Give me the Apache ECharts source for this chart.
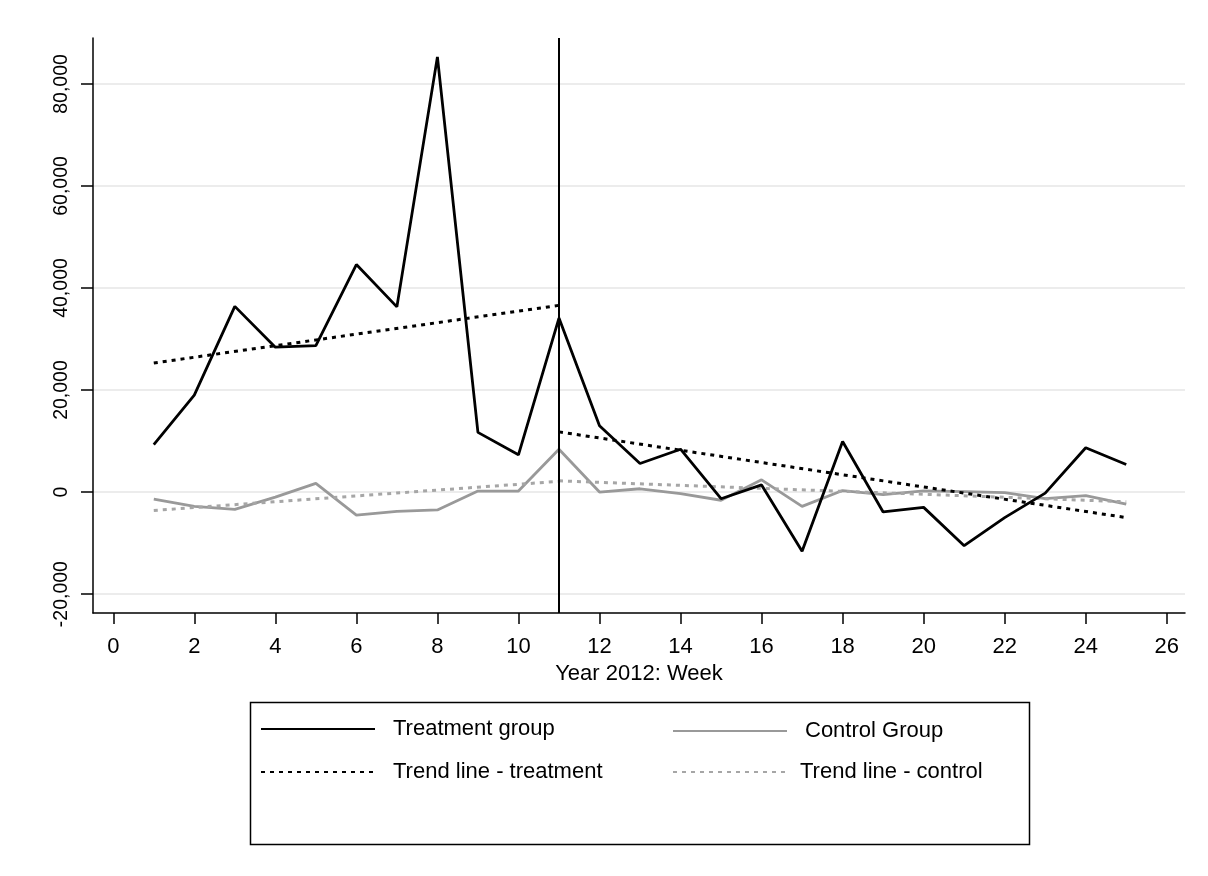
<!DOCTYPE html>
<html><head><meta charset="utf-8">
<script src="https://cdn.jsdelivr.net/npm/echarts@6/dist/echarts.min.js"></script>
<style>html,body{margin:0;padding:0;background:#fff}#c{width:1208px;height:876px}</style>
</head><body><div id="c"></div><script>
// ---- data ----
const weeks = [1,2,3,4,5,6,7,8,9,10,11,12,13,14,15,16,17,18,19,20,21,22,23,24,25];
const treatment = [9300,19000,36400,28400,28700,44600,36300,85300,11700,7300,34100,13000,5600,8400,-1300,1400,-11600,9900,-3900,-3000,-10500,-5000,-200,8700,5400];
const control = [-1400,-2800,-3400,-1000,1700,-4500,-3800,-3500,200,200,8400,0,650,-300,-1600,2400,-2800,300,-500,250,100,-100,-1300,-700,-2350];
const trendTreatmentPre = [[1,25300],[11,36600]];
const trendTreatmentPost = [[11,11800],[25,-5000]];
const trendControlPre = [[1,-3600],[11,2100]];
const trendControlPost = [[11,2200],[25,-1900]];
const interventionWeek = 11;
const xTicks = [0,2,4,6,8,10,12,14,16,18,20,22,24,26];
const yTicks = [-20000,0,20000,40000,60000,80000];
const names = ['Treatment group','Control Group','Trend line - treatment','Trend line - control'];

const FONT = 'Liberation Sans, Arial, sans-serif';
const pair = (xs, ys) => xs.map((x, i) => [x, ys[i]]);
const fmt = v => (v < 0 ? '-' : '') + Math.abs(v).toLocaleString('en-US');

const chart = echarts.init(document.getElementById('c'), null, {renderer: 'canvas'});
const legendItem = (name, left, top, gap) => ({
  data: [name], left: left, top: top,
  orient: 'horizontal', padding: 0, itemWidth: 114, itemHeight: 24,
  itemStyle: {opacity: 0},
  textStyle: {fontFamily: FONT, fontSize: 22, color: '#000', padding: [0,0,0,gap]},
  selectedMode: false
});
chart.setOption({
  animation: false,
  backgroundColor: '#fff',
  grid: {left: 93, right: 23, top: 38, bottom: 263, containLabel: false},
  xAxis: {
    type: 'value', min: -0.5, max: 26.45,
    name: 'Year 2012: Week', nameLocation: 'middle', nameGap: 47,
    nameTextStyle: {fontFamily: FONT, fontSize: 22, color: '#000'},
    axisLine: {show: true, onZero: false, lineStyle: {color: '#000', width: 1.5}},
    axisTick: {show: true, length: 11, lineStyle: {color: '#000', width: 1.5}, customValues: xTicks},
    axisLabel: {fontFamily: FONT, fontSize: 22, color: '#000', margin: 23, customValues: xTicks},
    splitLine: {show: false}
  },
  yAxis: {
    type: 'value', min: -23700, max: 89000,
    axisLine: {show: true, onZero: false, lineStyle: {color: '#000', width: 1.5}},
    axisTick: {show: true, length: 12, lineStyle: {color: '#000', width: 1.5}, customValues: yTicks},
    axisLabel: {fontFamily: FONT, fontSize: 19.5, color: '#000', rotate: 90, margin: 21,
      customValues: yTicks, formatter: fmt},
    splitLine: {show: true, lineStyle: {color: '#ececec', width: 2}}
  },
  legend: [
    legendItem(names[0], 260, 718, 13),
    legendItem(names[1], 672, 720, 13),
    legendItem(names[2], 260, 761, 13),
    legendItem(names[3], 672, 761, 8)
  ],
  graphic: [{
    type: 'rect', left: 248, top: 700, shape: {width: 779, height: 142},
    style: {fill: 'none', stroke: '#000', lineWidth: 1.5}, silent: true
  }],
  series: [
    {name: names[1], type: 'line', data: pair(weeks, control), symbol: 'none',
      lineStyle: {color: '#999999', width: 2.8}, itemStyle: {color: '#999999'}, z: 2},
    {name: names[3], type: 'line', data: trendControlPre, symbol: 'none',
      lineStyle: {color: '#a6a6a6', width: 3, type: [4,5]}, itemStyle: {color: '#a6a6a6'}, z: 2},
    {name: names[3], type: 'line', data: trendControlPost, symbol: 'none',
      lineStyle: {color: '#a6a6a6', width: 3, type: [4,5]}, itemStyle: {color: '#a6a6a6'}, z: 2},
    {name: names[2], type: 'line', data: trendTreatmentPre, symbol: 'none',
      lineStyle: {color: '#000', width: 3, type: [4,5]}, itemStyle: {color: '#000'}, z: 3},
    {name: names[2], type: 'line', data: trendTreatmentPost, symbol: 'none',
      lineStyle: {color: '#000', width: 3, type: [4,5]}, itemStyle: {color: '#000'}, z: 3},
    {name: names[0], type: 'line', data: pair(weeks, treatment), symbol: 'none',
      lineStyle: {color: '#000', width: 2.8}, itemStyle: {color: '#000'}, z: 4,
      markLine: {silent: true, symbol: 'none', label: {show: false},
        lineStyle: {color: '#000', width: 2, type: 'solid'},
        data: [{xAxis: interventionWeek}]}}
  ]
});
</script></body></html>
